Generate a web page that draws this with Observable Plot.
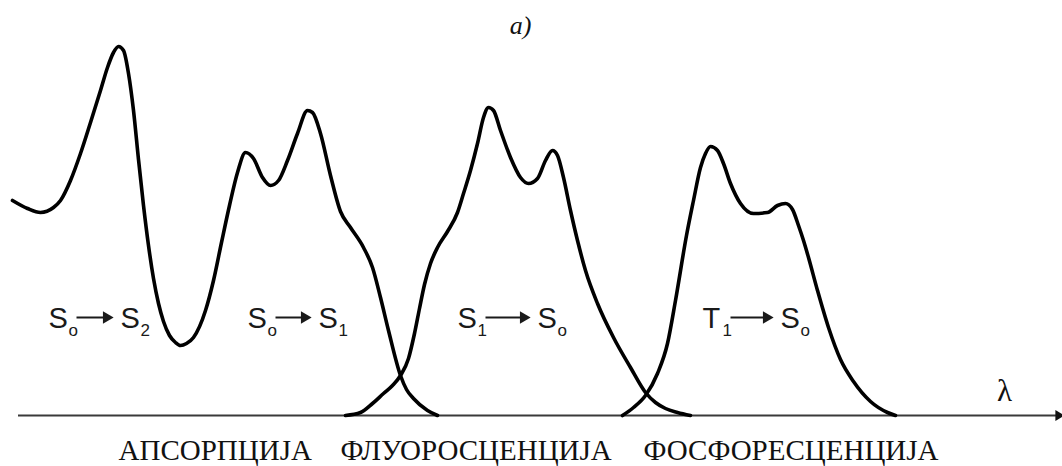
<!DOCTYPE html>
<html>
<head>
<meta charset="utf-8">
<script src="https://cdn.jsdelivr.net/npm/d3@7"></script>
<script src="https://cdn.jsdelivr.net/npm/@observablehq/plot@0.6"></script>
<style>
  body { margin: 0; background: #fff; }
</style>
</head>
<body>
<div id="chart"></div>
<script>
// Schematic spectra along the wavelength axis (arbitrary units), intensity above the baseline.
const absorptionWl = [12, 27, 40, 53, 60, 70, 80, 90, 100, 107, 113, 118, 123, 128, 133, 138, 143, 148, 153, 158, 163, 169, 175, 180, 186, 193, 205, 213, 221, 229, 237, 245, 253, 262, 270, 278, 287, 297, 307, 312, 320, 330, 340, 350, 363, 372, 380, 388, 400, 406, 413, 427, 437];
const absorptionI  = [215, 207, 203, 208, 215, 235, 262, 293, 325, 348, 363, 369, 365, 342, 305, 256, 210, 170, 137, 112, 94, 80, 73, 70, 72, 78, 105, 135, 173, 210, 243, 263, 257, 238, 230, 235, 255, 282, 305, 303, 282, 240, 204, 188, 168, 148, 118, 85, 40, 26, 17, 5, 0];

const fluorescenceWl = [345, 360, 372, 383, 392, 400, 408, 414, 419, 424, 430, 437, 447, 457, 463, 470, 477, 483, 488, 493, 500, 510, 520, 528, 537, 545, 552, 557, 563, 570, 577, 585, 597, 613, 630, 645, 655, 665, 677, 690];
const fluorescenceI  = [0, 3, 12, 22, 30, 40, 57, 82, 107, 131, 152, 168, 184, 203, 222, 245, 272, 298, 308, 305, 285, 258, 238, 232, 237, 255, 265, 260, 238, 205, 175, 145, 112, 78, 48, 23, 13, 7, 3, 0];

const phosphorescenceWl = [622, 633, 645, 657, 667, 675, 686, 693, 700, 705, 710, 717, 723, 730, 740, 753, 767, 777, 785, 792, 798, 803, 808, 817, 828, 840, 853, 870, 887, 895];
const phosphorescenceI  = [0, 8, 20, 42, 72, 115, 180, 215, 248, 262, 269, 265, 252, 232, 212, 202, 203, 210, 212, 206, 190, 175, 158, 125, 88, 56, 34, 14, 3, 0];

// Electronic transitions written under each band
const transitionAt   = [48, 247, 457, 702];
const arrivalAt      = [120, 318, 537, 780];
const fromLevel      = ["S", "S", "S", "T"];
const fromIndex      = ["o", "o", "1", "1"];
const toLevel        = ["S", "S", "S", "S"];
const toIndex        = ["2", "1", "o", "o"];

// Process names along the bottom
const processNames = ["АПСОРПЦИЈА", "ФЛУОРОСЦЕНЦИЈА", "ФОСФОРЕСЦЕНЦИЈА"];
const processAt    = [118, 340, 643];

const axisStart = 18;
const axisEnd = 1058;

const bands = [
  ...absorptionWl.map((x, i) => ({band: "absorption", x, y: absorptionI[i]})),
  ...fluorescenceWl.map((x, i) => ({band: "fluorescence", x, y: fluorescenceI[i]})),
  ...phosphorescenceWl.map((x, i) => ({band: "phosphorescence", x, y: phosphorescenceI[i]}))
];

const transitions = transitionAt.map((at, i) => ({
  at, to: arrivalAt[i],
  from: fromLevel[i], fromSub: fromIndex[i],
  toLevel: toLevel[i], toSub: toIndex[i]
}));

const processes = processNames.map((name, i) => ({name, at: processAt[i]}));

const sans = "Liberation Sans, Arial, sans-serif";
const serif = "Liberation Serif, Times New Roman, serif";
const labelBase = 88, subBase = 80, arrowLevel = 98;

const chart = Plot.plot({
  width: 1062,
  height: 466,
  margin: 0,
  x: {domain: [0, 1062], range: [0, 1062], axis: null},
  y: {domain: [-51, 415], range: [466, 0], axis: null},
  marks: [
    // wavelength axis with arrow
    Plot.ruleY([0], {x1: axisStart, x2: axisEnd, stroke: "#3a3a3a", strokeWidth: 2}),
    Plot.dot([axisEnd], {x: d => d, y: 0, symbol: "triangle", r: 4, rotate: 90, fill: "#111", stroke: null}),
    Plot.text(["λ"], {x: 1004, y: 15, text: d => d, fontFamily: serif, fontSize: 31, lineAnchor: "bottom", fill: "#111"}),

    // spectral bands
    Plot.line(bands, {x: "x", y: "y", z: "band", curve: "monotone-x", stroke: "#000", strokeWidth: 3.6, strokeLinejoin: "round", strokeLinecap: "round"}),

    // transition labels: level, subscript, arrow, level, subscript
    Plot.text(transitions, {x: "at", y: labelBase, text: "from", textAnchor: "start", lineAnchor: "bottom", fontFamily: sans, fontSize: 29, fill: "#1a1a1a"}),
    Plot.text(transitions, {x: "at", y: subBase, text: "fromSub", dx: 20, textAnchor: "start", lineAnchor: "bottom", fontFamily: sans, fontSize: 17, fill: "#1a1a1a"}),
    Plot.link(transitions, {x1: d => d.at + 28, x2: d => d.to - 12, y1: arrowLevel, y2: arrowLevel, stroke: "#1a1a1a", strokeWidth: 2}),
    Plot.dot(transitions, {x: d => d.to - 14, y: arrowLevel, symbol: "triangle", r: 4.6, rotate: 90, fill: "#1a1a1a", stroke: null}),
    Plot.text(transitions, {x: "to", y: labelBase, text: "toLevel", textAnchor: "start", lineAnchor: "bottom", fontFamily: sans, fontSize: 29, fill: "#1a1a1a"}),
    Plot.text(transitions, {x: "to", y: subBase, text: "toSub", dx: 20, textAnchor: "start", lineAnchor: "bottom", fontFamily: sans, fontSize: 17, fill: "#1a1a1a"}),

    // process names and panel title
    Plot.text(processes, {x: "at", y: -44, text: "name", textAnchor: "start", lineAnchor: "bottom", fontFamily: serif, fontSize: 29, fill: "#111"}),
    Plot.text(["a)"], {x: 520, y: 382, text: d => d, fontFamily: serif, fontStyle: "italic", fontSize: 26, lineAnchor: "bottom", fill: "#111"})
  ]
});

document.getElementById("chart").appendChild(chart);
</script>
</body>
</html>
